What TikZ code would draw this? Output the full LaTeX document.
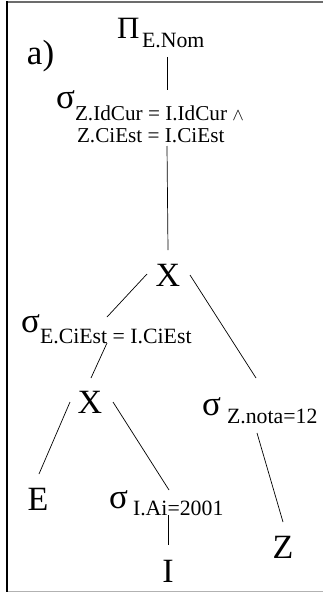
\documentclass[tikz,border=0pt]{standalone}
\usepackage{fontspec}
\setmainfont{Liberation Serif}
\newcommand{\bigf}{\fontsize{34}{34}\selectfont}
\newcommand{\sigf}{\fontsize{35}{35}\selectfont}
\newcommand{\subf}{\fontsize{21.8}{21.8}\selectfont}
\newcommand{\subg}{\fontsize{21.2}{21.2}\selectfont}
\begin{document}
\begin{tikzpicture}[x=1pt,y=-1pt,
  lbl/.style={inner sep=0pt,outer sep=0pt,anchor=base west},
  big/.style={inner sep=0pt,outer sep=0pt,anchor=base,font=\bigf},
  edge/.style={line width=0.7pt,black}]
\useasboundingbox (0,0) rectangle (323,594);
% frame
\draw[line width=1.6pt,gray!85!black] (7,2) -- (323,2);
\draw[line width=1.2pt,gray!60] (7,591.5) -- (323,591.5);
\draw[line width=1.8pt,black] (7,1.2) -- (7,592.3);
% labels
\node[lbl,font=\fontsize{35}{35}\selectfont] (a) at (27,64) {a)};
\node[lbl] (pi) at (117,39) {\makebox[25pt][l]{\fontsize{31}{31}\selectfont Π}\raisebox{-9pt}{\subf E.Nom}};
\node[lbl] (s1) at (56,108) {\rlap{\hspace{21pt}\raisebox{-34pt}{\subg Z.CiEst = I.CiEst}}\makebox[19pt][l]{\sigf σ}\raisebox{-12.5pt}{\subg Z.IdCur = I.IdCur {\fontsize{18}{18}\selectfont$\wedge$}}};
\node[big] (x1) at (168,286) {X};
\node[lbl] (sE) at (21,332) {\makebox[19pt][l]{\sigf σ}\raisebox{-11pt}{\subf E.CiEst = I.CiEst}};
\node[big] (x2) at (90,413) {X};
\node[lbl] (sZ) at (202,415) {\makebox[25pt][l]{\sigf σ}\raisebox{-8pt}{\subf Z.nota=12}};
\node[big] (e) at (38,510) {E};
\node[lbl] (sI) at (109,508) {\makebox[24pt][l]{\sigf σ}\raisebox{-7pt}{\subf I.Ai=2001}};
\node[big] (i) at (168,582) {I};
\node[big] (z) at (283,558) {Z};
% connector end points
\coordinate (pi-s) at (167,57);   \coordinate (s1-n) at (167,90);
\coordinate (s1-s) at (167,146);  \coordinate (x1-n) at (168,250);
\coordinate (x1-w) at (147,274);  \coordinate (sE-n) at (107,317);
\coordinate (x1-e) at (190,275);  \coordinate (sZ-n) at (256,378);
\coordinate (sE-s) at (107,343);  \coordinate (x2-n) at (91,378);
\coordinate (x2-w) at (70,402);   \coordinate (e-n) at (39,474);
\coordinate (x2-e) at (113,402);  \coordinate (sI-n) at (169,490);
\coordinate (sI-s) at (168,515);  \coordinate (i-n) at (168,545);
\coordinate (sZ-s) at (257,433);  \coordinate (z-n) at (283,522);
% connectors
\draw[edge] (pi-s) -- (s1-n);
\draw[edge] (s1-s) -- (x1-n);
\draw[edge] (x1-w) -- (sE-n);
\draw[edge] (x1-e) -- (sZ-n);
\draw[edge] (sE-s) -- (x2-n);
\draw[edge] (x2-w) -- (e-n);
\draw[edge] (x2-e) -- (sI-n);
\draw[edge] (sI-s) -- (i-n);
\draw[edge] (sZ-s) -- (z-n);
\end{tikzpicture}
\end{document}
